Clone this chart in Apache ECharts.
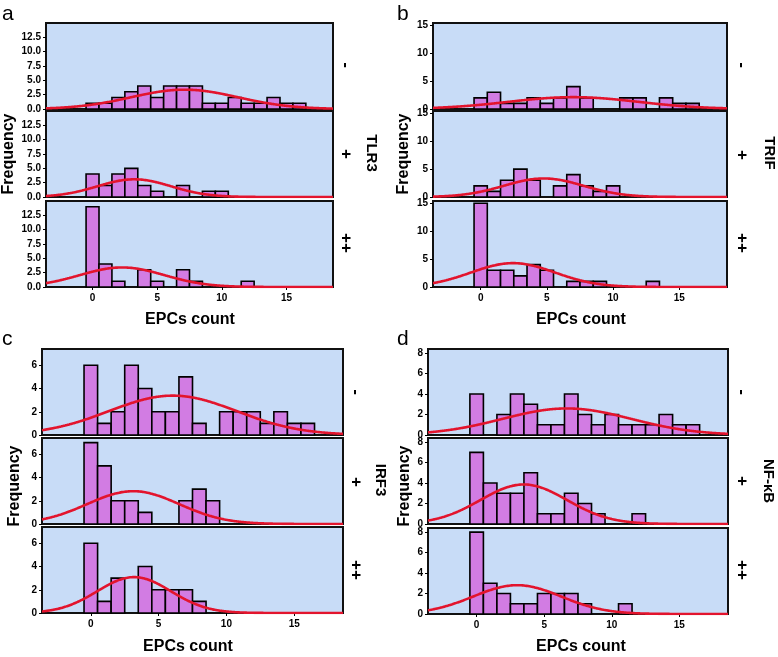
<!DOCTYPE html>
<html><head><meta charset="utf-8">
<script src="https://cdn.jsdelivr.net/npm/echarts@6/dist/echarts.min.js"></script>
<style>html,body{margin:0;padding:0;background:#fff}#c{width:778px;height:657px}</style>
</head><body><div id="c"></div>
<script>
// ---------- data ----------
const xMin = -3.6, xMax = 18.6;
const xTickValues = [0, 5, 10, 15];
const groupLabels = ['-', '+', '++'];
const markerNames = ['TLR3', 'TRIF', 'IRF3', 'NF-\u03baB'];
const panelLetters = ['a', 'b', 'c', 'd'];
// frequency of each EPC count, index = EPC count (0,1,2,...)
const tlr3Neg    = [1, 1, 2, 3, 4, 2, 4, 4, 4, 1, 1, 2, 1, 1, 2, 1, 1];
const tlr3Pos    = [4, 2, 4, 5, 2, 1, 0, 2, 0, 1, 1];
const tlr3PosPos = [14, 4, 1, 0, 3, 1, 0, 3, 1, 0, 0, 0, 1];
const trifNeg    = [2, 3, 1, 1, 2, 1, 2, 4, 2, 0, 0, 2, 2, 0, 2, 1, 1];
const trifPos    = [2, 1, 3, 5, 3, 0, 2, 4, 2, 1, 2];
const trifPosPos = [15, 3, 3, 2, 4, 3, 0, 1, 1, 1, 0, 0, 0, 1];
const irf3Neg    = [6, 1, 2, 6, 4, 2, 2, 5, 1, 0, 2, 2, 2, 1, 2, 1, 1];
const irf3Pos    = [7, 5, 2, 2, 1, 0, 0, 2, 3, 2];
const irf3PosPos = [6, 1, 3, 0, 4, 2, 2, 2, 1];
const nfkbNeg    = [4, 0, 2, 4, 3, 1, 1, 4, 2, 1, 2, 1, 1, 1, 2, 1, 1];
const nfkbPos    = [7, 4, 3, 3, 5, 1, 1, 3, 2, 1, 0, 0, 1];
const nfkbPosPos = [8, 3, 2, 1, 1, 2, 2, 2, 1, 0, 0, 1];
const yTicksA = [0, 2.5, 5, 7.5, 10, 12.5], yMaxA = 15;
const yTicksB = [0, 5, 10, 15],            yMaxB = 15.4;
const yTicksC = [0, 2, 4, 6],              yMaxC = 7.4;
const yTicksD = [0, 2, 4, 6, 8],           yMaxD = 8.4;

const panelsData = [
  { counts: [tlr3Neg, tlr3Pos, tlr3PosPos], yTicks: yTicksA, yMax: yMaxA, dec: 1 },
  { counts: [trifNeg, trifPos, trifPosPos], yTicks: yTicksB, yMax: yMaxB, dec: 0 },
  { counts: [irf3Neg, irf3Pos, irf3PosPos], yTicks: yTicksC, yMax: yMaxC, dec: 0 },
  { counts: [nfkbNeg, nfkbPos, nfkbPosPos], yTicks: yTicksD, yMax: yMaxD, dec: 0 }
];

// ---------- layout (pixels) ----------
const layout = [
  { left: 46,  width: 287, tops: [23, 111, 201], h: 86, letter: [2, 4],   freq: [9, 154],   epc: [190, 320], grp: [346, [65, 154, 243]], name: [371, 153] },
  { left: 433, width: 294, tops: [23, 111, 201], h: 86, letter: [397, 4], freq: [404, 154], epc: [581, 320], grp: [742, [65, 155, 243]], name: [769, 153] },
  { left: 42,  width: 301, tops: [349, 438, 527], h: 86, letter: [2, 329], freq: [15, 486], epc: [188, 647], grp: [356, [392, 482, 570]], name: [380, 480] },
  { left: 428, width: 300, tops: [349, 438, 528], h: 86, letter: [397, 329], freq: [405, 486], epc: [581, 647], grp: [742, [392, 481, 570]], name: [768, 481] }
];

const BG = '#c8dcf7', BAR = '#d27ce3', CURVE = '#e3142d';
const LABEL_FONT = 'Arial, "Liberation Sans", sans-serif';

function normalCurve(counts) {
  let n = 0, s = 0, s2 = 0;
  counts.forEach((c, v) => { n += c; s += c * v; s2 += c * v * v; });
  const mean = s / n;
  const sd = Math.sqrt((s2 - n * mean * mean) / (n - 1));
  const pts = [];
  for (let x = xMin; x <= xMax + 1e-9; x += 0.1) {
    const y = n / (sd * Math.sqrt(2 * Math.PI)) * Math.exp(-0.5 * Math.pow((x - mean) / sd, 2));
    pts.push([x, y]);
  }
  return pts;
}

const grids = [], xAxes = [], yAxes = [], series = [], graphics = [];
panelsData.forEach((pd, p) => {
  const L = layout[p];
  pd.counts.forEach((counts, r) => {
    const idx = grids.length;
    const isBottom = r === 2;
    grids.push({
      left: L.left, top: L.tops[r], width: L.width, height: L.h,
      show: true, backgroundColor: BG, borderColor: '#111', borderWidth: 2,
      containLabel: false
    });
    xAxes.push({
      type: 'value', gridIndex: idx, min: xMin, max: xMax, position: 'bottom',
      splitLine: { show: false },
      axisLine: { show: false, onZero: false },
      axisTick: { show: isBottom, length: 3, customValues: xTickValues, lineStyle: { color: '#000' } },
      axisLabel: {
        show: isBottom, customValues: xTickValues, margin: 6,
        fontSize: 10, fontWeight: 'bold', color: '#000', fontFamily: LABEL_FONT
      }
    });
    yAxes.push({
      type: 'value', gridIndex: idx, min: 0, max: pd.yMax, position: 'left',
      splitLine: { show: false },
      axisLine: { show: false, onZero: false },
      axisTick: { show: true, length: 3, customValues: pd.yTicks, lineStyle: { color: '#000' } },
      axisLabel: {
        customValues: pd.yTicks, margin: 5,
        fontSize: 10, fontWeight: 'bold', color: '#000', fontFamily: LABEL_FONT,
        formatter: v => v.toFixed(pd.dec)
      }
    });
    series.push({
      type: 'custom', xAxisIndex: idx, yAxisIndex: idx,
      data: counts.map((c, v) => [v, c]).filter(d => d[1] > 0),
      encode: { x: 0, y: 1 },
      renderItem: (params, api) => {
        const x = api.value(0), y = api.value(1);
        const p0 = api.coord([x - 0.5, y]);
        const p1 = api.coord([x + 0.5, 0]);
        return {
          type: 'rect',
          shape: { x: p0[0], y: p0[1], width: p1[0] - p0[0], height: p1[1] - p0[1] },
          style: { fill: BAR, stroke: '#000', lineWidth: 1.6 }
        };
      },
      z: 2
    });
    series.push({
      type: 'line', xAxisIndex: idx, yAxisIndex: idx,
      data: normalCurve(counts), showSymbol: false, smooth: true,
      lineStyle: { color: CURVE, width: 2.6 }, clip: true, z: 3, silent: true
    });
    graphics.push({
      type: 'text', x: L.grp[0], y: L.grp[1][r], rotation: -Math.PI / 2,
      style: { text: groupLabels[r], font: 'bold 17px ' + LABEL_FONT, fill: '#000', align: 'center', verticalAlign: 'middle' }
    });
  });
  graphics.push({
    type: 'text', x: L.letter[0], y: L.letter[1],
    style: { text: panelLetters[p], font: '21px ' + LABEL_FONT, fill: '#000', align: 'left', verticalAlign: 'top' }
  });
  graphics.push({
    type: 'text', x: L.freq[0], y: L.freq[1], rotation: Math.PI / 2,
    style: { text: 'Frequency', font: 'bold 16px ' + LABEL_FONT, fill: '#000', align: 'center', verticalAlign: 'middle' }
  });
  graphics.push({
    type: 'text', x: L.epc[0], y: L.epc[1],
    style: { text: 'EPCs count', font: 'bold 16px ' + LABEL_FONT, fill: '#000', align: 'center', verticalAlign: 'middle' }
  });
  graphics.push({
    type: 'text', x: L.name[0], y: L.name[1], rotation: -Math.PI / 2,
    style: { text: markerNames[p], font: 'bold 15px ' + LABEL_FONT, fill: '#000', align: 'center', verticalAlign: 'middle' }
  });
});

const chart = echarts.init(document.getElementById('c'), null, { renderer: 'canvas' });
chart.setOption({
  animation: false,
  backgroundColor: '#fff',
  grid: grids, xAxis: xAxes, yAxis: yAxes, series: series,
  graphic: graphics
});
</script></body></html>
